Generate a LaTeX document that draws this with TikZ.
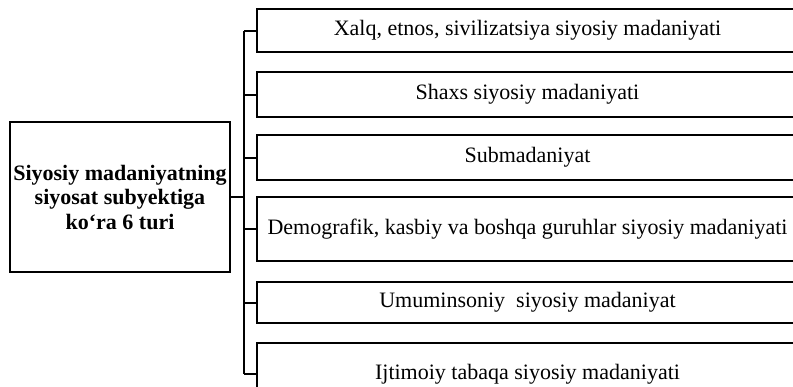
\documentclass[tikz,border=0pt]{standalone}
\usepackage{fontspec}
\setmainfont{Liberation Serif}
\begin{document}
\begin{tikzpicture}[x=1pt,y=-1pt,
  line width=2pt,
  itembox/.style={draw, line width=2pt, minimum width=541pt, inner sep=0pt,
    font=\fontsize{22}{25}\selectfont, anchor=center},
  mainbox/.style={draw, line width=2pt, minimum width=220pt, minimum height=150pt,
    inner sep=0pt, align=center, font=\fontsize{22}{24.5}\selectfont\bfseries}]
\useasboundingbox (0,0) rectangle (793,386);
\clip (0,0) rectangle (793,386);
\node[mainbox] (L) at (120,197) {Siyosiy madaniyatning\\siyosat subyektiga\\ko‘ra 6 turi};
\node[itembox, minimum height=43pt] (b1) at (527.5,30.5) {Xalq, etnos, sivilizatsiya siyosiy madaniyati};
\node[itembox, minimum height=45pt] (b2) at (527.5,94.5) {Shaxs siyosiy madaniyati};
\node[itembox, minimum height=45pt] (b3) at (527.5,157.5) {Submadaniyat};
\node[itembox, minimum height=64pt] (b4) at (527.5,229) {Demografik, kasbiy va boshqa guruhlar siyosiy madaniyati};
\node[itembox, minimum height=41pt] (b5) at (527.5,302.5) {Umuminsoniy\ \ siyosiy madaniyat};
\node[itembox, minimum height=62pt] (b6) at (527.5,374) {Ijtimoiy tabaqa siyosiy madaniyati};
\coordinate (tr) at (244,0);
\draw (b1.west -| tr) -- (b6.west -| tr);
\draw (L.east) -- (L.east -| tr);
\foreach \b in {b1,b2,b3,b4,b5,b6} \draw (\b.west) -- (\b.west -| tr);
\end{tikzpicture}
\end{document}
